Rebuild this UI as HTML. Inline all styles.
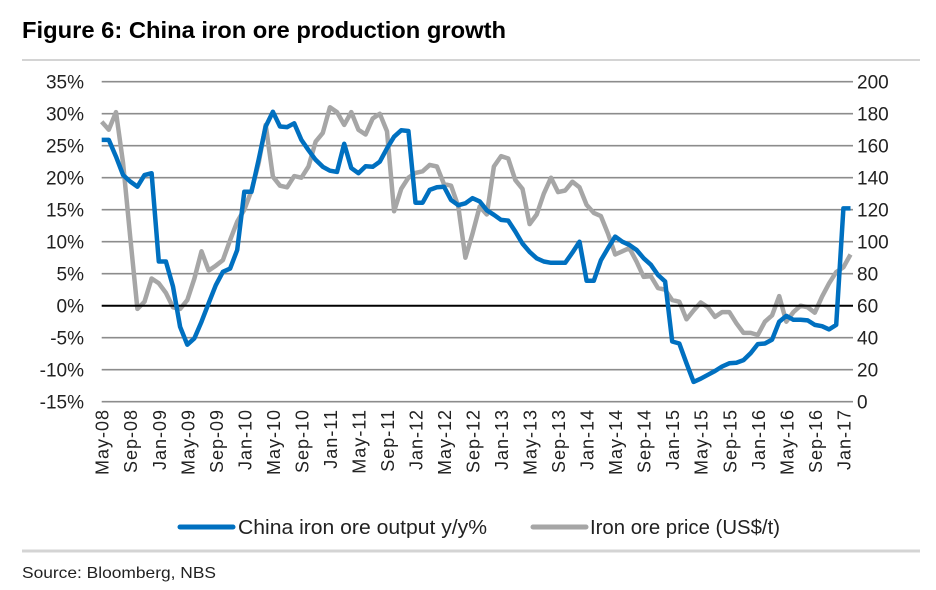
<!DOCTYPE html>
<html><head><meta charset="utf-8"><style>
body{margin:0;background:#fff;}
svg{display:block;font-family:"Liberation Sans",sans-serif;}
</style></head><body>
<svg id="chart" width="936" height="590" viewBox="0 0 936 590">
<text x="22" y="38" font-size="23" font-weight="bold" fill="#000" textLength="484" lengthAdjust="spacingAndGlyphs">Figure 6: China iron ore production growth</text>
<line x1="22" y1="60" x2="920" y2="60" stroke="#d4d4d4" stroke-width="2"/>
<g id="grid"></g><g id="axes"></g><g id="series"></g>
<g>
<line x1="180" y1="527" x2="233" y2="527" stroke="#0070c0" stroke-width="5" stroke-linecap="round"/>
<text x="238" y="534" font-size="20" fill="#222" textLength="249" lengthAdjust="spacingAndGlyphs">China iron ore output y/y%</text>
<line x1="533" y1="527" x2="586" y2="527" stroke="#a6a6a6" stroke-width="5" stroke-linecap="round"/>
<text x="590" y="534" font-size="20" fill="#222" textLength="190" lengthAdjust="spacingAndGlyphs">Iron ore price (US$/t)</text>
</g>
<line x1="22" y1="551" x2="920" y2="551" stroke="#d4d4d4" stroke-width="3"/>
<text x="22" y="578" font-size="16" fill="#222" textLength="194" lengthAdjust="spacingAndGlyphs">Source: Bloomberg, NBS</text>
</svg>
<script>
const leftTicks=[35,30,25,20,15,10,5,0,-5,-10,-15];
const rightTicks=[200,180,160,140,120,100,80,60,40,20,0];
const xLabels=["May-08","Sep-08","Jan-09","May-09","Sep-09","Jan-10","May-10","Sep-10","Jan-11","May-11","Sep-11","Jan-12","May-12","Sep-12","Jan-13","May-13","Sep-13","Jan-14","May-14","Sep-14","Jan-15","May-15","Sep-15","Jan-16","May-16","Sep-16","Jan-17"];
const outputYoY=[25.9,25.9,23.3,20.4,19.4,18.6,20.4,20.7,6.9,6.9,3.0,-3.3,-6.1,-5.1,-2.5,0.4,3.2,5.3,5.8,8.7,17.8,17.8,22.8,28.0,30.3,28.0,27.9,28.5,25.9,24.3,22.8,21.7,21.1,20.9,25.3,21.5,20.7,21.8,21.7,22.5,24.6,26.4,27.4,27.3,16.1,16.1,18.1,18.5,18.6,16.5,15.7,16.0,16.8,16.3,14.9,14.2,13.4,13.3,11.6,9.7,8.4,7.4,6.9,6.7,6.7,6.7,8.3,10.0,3.9,3.9,7.1,9.0,10.8,10.0,9.5,8.7,7.4,6.4,4.8,3.8,-5.6,-5.9,-9.0,-11.9,-11.4,-10.8,-10.2,-9.5,-9.0,-8.9,-8.5,-7.4,-6.0,-5.9,-5.3,-2.5,-1.6,-2.2,-2.2,-2.3,-3.0,-3.2,-3.7,-3.0,15.2,15.2];
const orePrice=[175,170,181,149,103,58,62.5,77,74,68,59,58,63.5,77,94,82,85,88.5,101,112.5,120,132,149,173,140.6,135,134,141,140,147,162.5,168,184,181,173,181,170,167,177,180,169,119,133,140,143,144,148,147,136,135,122,90,105,122,117,147,153.5,152,138.5,133,111,117,130,140,131,132,137.5,134,123,118,116,105,92,94,96,87.5,78,78.5,71,70,63.5,62.5,51.5,57,62,59,53,56,56,49,43,43,41.7,50,54,66,50,56,60,59,55.6,65.6,74,81,84,92];

const NS="http://www.w3.org/2000/svg";
const X0=101.7,X1=850.5,Y0=81.7,Y1=401.7;
const n=outputYoY.length;
function xs(i){return X0+(X1-X0)*i/(n-1);}
function yl(v){return Y1-(v+15)/50*(Y1-Y0);}
function yr(v){return Y1-v/200*(Y1-Y0);}
function mk(tag,attrs,parent){const e=document.createElementNS(NS,tag);for(const k in attrs)e.setAttribute(k,attrs[k]);parent.appendChild(e);return e;}
const grid=document.getElementById('grid'),axes=document.getElementById('axes'),series=document.getElementById('series');
leftTicks.forEach(t=>{
  if(t!==0){const g=mk('line',{x1:X0,x2:853,y1:yl(t),y2:yl(t),stroke:'#8c8c8c','stroke-width':1.6},grid);
  
  }
  const tx=mk('text',{x:84,y:yl(t)+7,'font-size':19,'text-anchor':'end',fill:'#222'},axes);
  tx.textContent=t+'%';
  
  
});
rightTicks.forEach(t=>{
  const tx=mk('text',{x:857,y:yr(t)+7,'font-size':19,fill:'#222'},axes);
  tx.textContent=t;
  
  
});
xLabels.forEach((l,k)=>{
  const x=xs(k*4);
  const tx=mk('text',{x:0,y:0,'font-size':18,'text-anchor':'end',fill:'#222','letter-spacing':'1',transform:`translate(${x+7},409) rotate(-90)`},axes);
  tx.textContent=l;
  
  
});
const pp=mk('polyline',{points:orePrice.map((v,i)=>xs(i).toFixed(1)+','+yr(v).toFixed(1)).join(' '),fill:'none',stroke:'#a6a6a6','stroke-width':4.5,'stroke-linejoin':'round'},series);


const zl=mk('line',{x1:X0,x2:853,y1:yl(0),y2:yl(0),stroke:'#000','stroke-width':2},series);


const op=mk('polyline',{points:outputYoY.map((v,i)=>xs(i).toFixed(1)+','+yl(v).toFixed(1)).join(' '),fill:'none',stroke:'#0070c0','stroke-width':4.5,'stroke-linejoin':'round'},series);


</script>
</body></html>
